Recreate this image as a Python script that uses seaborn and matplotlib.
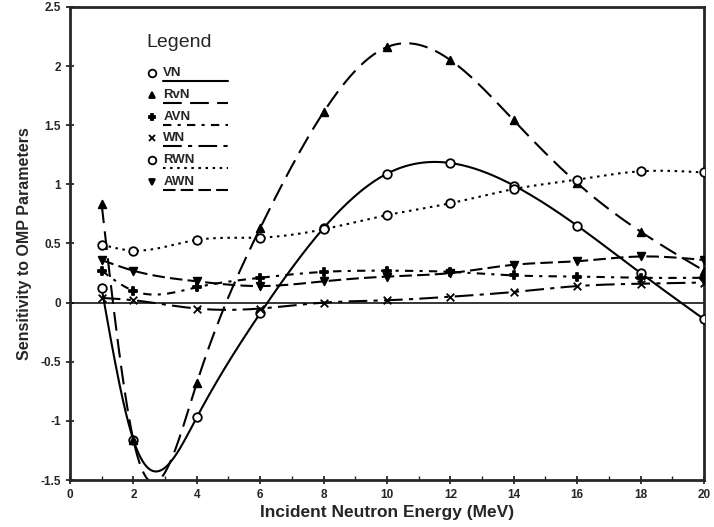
import numpy as np
import pandas as pd
import matplotlib
matplotlib.use("Agg")
import matplotlib.pyplot as plt
import seaborn as sns

# valores (sensibilidad vs energia)
energy = [1, 2, 4, 6, 8, 10, 12, 14, 16, 18, 20]
vn = [0.12, -1.16, -0.97, -0.09, 0.63, 1.09, 1.18, 0.99, 0.65, 0.25, -0.14]
rvn = [0.83, -1.16, -0.68, 0.63, 1.61, 2.16, 2.05, 1.54, 1.01, 0.60, 0.27]
avn = [0.27, 0.10, 0.13, 0.21, 0.26, 0.27, 0.26, 0.23, 0.22, 0.21, 0.21]
wn = [0.04, 0.02, -0.05, -0.05, 0.00, 0.02, 0.05, 0.09, 0.14, 0.16, 0.17]
rwn = [0.49, 0.44, 0.53, 0.55, 0.62, 0.74, 0.84, 0.96, 1.04, 1.11, 1.10]
awn = [0.36, 0.27, 0.18, 0.14, 0.18, 0.22, 0.25, 0.32, 0.35, 0.39, 0.36]

names = ["VN", "RvN", "AVN", "WN", "RWN", "AWN"]
series = [vn, rvn, avn, wn, rwn, awn]
markers = ["o", "^", "P", "x", "o", "v"]
filled = [False, True, True, True, False, True]
dashes = ["-", (0, (9, 4)), (0, (4, 3, 1.5, 3)), (0, (9, 3, 2, 3)), (0, (1.2, 2.2)), (0, (6, 2.5))]


def spline(x, y, xs):
    # spline cubico natural solo para dibujar la curva suave
    x = np.asarray(x, float)
    y = np.asarray(y, float)
    n = len(x)
    h = np.diff(x)
    A = np.zeros((n, n))
    r = np.zeros(n)
    A[0, 0] = 1
    A[-1, -1] = 1
    for i in range(1, n - 1):
        A[i, i - 1] = h[i - 1]
        A[i, i] = 2 * (h[i - 1] + h[i])
        A[i, i + 1] = h[i]
        r[i] = 3 * ((y[i + 1] - y[i]) / h[i] - (y[i] - y[i - 1]) / h[i - 1])
    c = np.linalg.solve(A, r)
    b = (y[1:] - y[:-1]) / h - h * (2 * c[:-1] + c[1:]) / 3
    d = (c[1:] - c[:-1]) / (3 * h)
    idx = np.clip(np.searchsorted(x, xs) - 1, 0, n - 2)
    t = xs - x[idx]
    return y[idx] + b[idx] * t + c[idx] * t ** 2 + d[idx] * t ** 3


sns.set_style("ticks")
plt.rcParams['font.family'] = ['Liberation Sans', 'DejaVu Sans']

fig = plt.figure(figsize=(7.14, 5.27), dpi=100)
ax = fig.add_axes([0.098, 0.089, 0.888, 0.898])

xs = np.linspace(1, 20, 400)
for name, vals, mk, fl, ls in zip(names, series, markers, filled, dashes):
    curve = pd.DataFrame({"E": xs, "S": spline(energy, vals, xs)})
    sns.lineplot(data=curve, x="E", y="S", ax=ax, color="black", lw=1.5,
                 linestyle=ls, estimator=None, sort=False)
    pts = pd.DataFrame({"E": energy, "S": vals})
    sns.scatterplot(data=pts, x="E", y="S", ax=ax, marker=mk, s=38 if mk == "o" else 30,
                    facecolor="black" if fl else "white", edgecolor="black",
                    linewidth=1.3, zorder=5)

ax.axhline(0, color="black", lw=1.1)

ax.set_xlim(0, 20)
ax.set_ylim(-1.5, 2.5)
ax.set_xticks(range(0, 21, 2))
ax.set_xticks(range(0, 21, 1), minor=True)
yt = [-1.5, -1, -0.5, 0, 0.5, 1, 1.5, 2, 2.5]
ax.set_yticks(yt)
ax.set_yticklabels(["-1.5", "-1", "-0.5", "0", "0.5", "1", "1.5", "2", "2.5"])
ax.tick_params(axis="both", which="major", direction="inout", length=6, width=1.3,
               labelsize=8.5)
ax.tick_params(axis="x", which="minor", direction="in", length=3, width=1)
for lab in ax.get_xticklabels() + ax.get_yticklabels():
    lab.set_fontweight("bold")
for sp in ax.spines.values():
    sp.set_visible(True)
    sp.set_linewidth(2)

ax.set_xlabel("Incident Neutron Energy (MeV)", fontsize=12.5, fontweight="bold", labelpad=3)
ax.set_ylabel("Sensitivity to OMP Parameters", fontsize=11.5, fontweight="bold", labelpad=6)

# leyenda dibujada a mano como en el original
ax.text(0.121, 0.925, "Legend", transform=ax.transAxes, fontsize=14, va="center")
for i, (name, mk, fl, ls) in enumerate(zip(names, markers, filled, dashes)):
    yy = 0.86 - i * 0.046
    ax.plot([0.129], [yy], transform=ax.transAxes, marker=mk, ms=5 if mk != "o" else 5.5,
            mfc="black" if fl else "white", mec="black", mew=1.3, color="black")
    ax.text(0.147, yy, name, transform=ax.transAxes, fontsize=9.5, fontweight="bold",
            va="center")
    ax.plot([0.147, 0.249], [yy - 0.017, yy - 0.017], transform=ax.transAxes,
            color="black", lw=1.5, linestyle=ls)

fig.savefig("out.png", dpi=100)
